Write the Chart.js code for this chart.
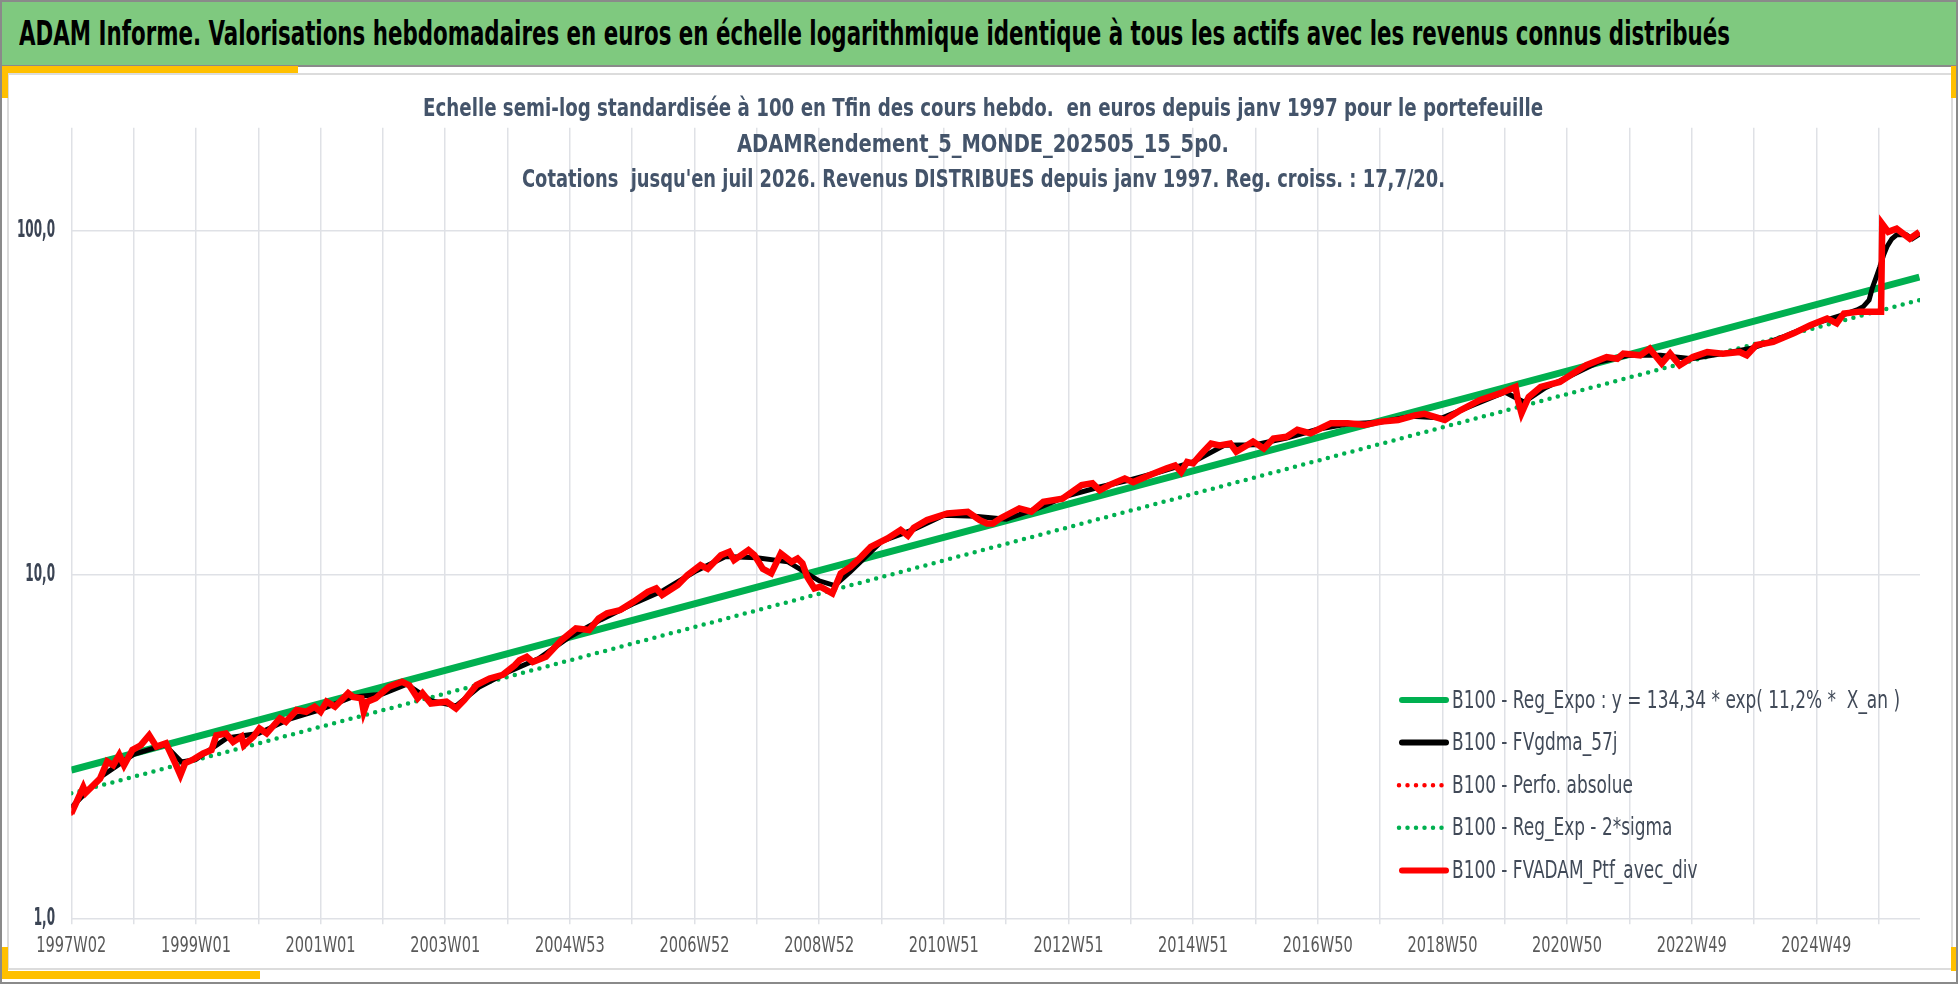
<!DOCTYPE html>
<html>
<head>
<meta charset="utf-8">
<script src="https://cdn.jsdelivr.net/npm/chart.js@4.4.1/dist/chart.umd.min.js"></script>
<style>
  html, body { margin: 0; padding: 0; background: #fff; }
  body { width: 1958px; height: 984px; position: relative; overflow: hidden;
         font-family: "Liberation Sans Narrow", "DejaVu Sans Condensed", "Roboto", sans-serif; }
  .outer { position: absolute; left: 0; top: 0; width: 1958px; height: 984px; box-sizing: border-box;
           border: 2px solid #8a8a8a; }
  .inner { position: absolute; left: 7px; top: 73px; width: 1946px; height: 897px; box-sizing: border-box;
           border: 2px solid #dcdcdc; }
  .banner { position: absolute; left: 0; top: 0; width: 1958px; height: 67px; background: #7fc97f;
            border: 2px solid #8a8a8a; box-sizing: border-box; }
  .banner span { position: absolute; left: 17px; top: 13px; font-weight: bold; font-size: 33px;
                 line-height: 38px; color: #000; white-space: pre; transform-origin: left top; }
  .y { position: absolute; background: #ffc000; }
  .sub { position: absolute; font-weight: bold; font-size: 24px; line-height: 26px;
         color: #44546a; white-space: pre; transform-origin: left top; }
  canvas { position: absolute; left: 0; top: 0; }
</style>
</head>
<body>
<div class="outer"></div>
<div class="inner"></div>
<div class="banner"><span id="bannerText">ADAM Informe. Valorisations hebdomadaires en euros en échelle logarithmique identique à tous les actifs avec les revenus connus distribués</span></div>
<div class="y" style="left:2px;top:66px;width:296px;height:7px"></div>
<div class="y" style="left:2px;top:66px;width:6px;height:32px"></div>
<div class="y" style="left:1951px;top:66px;width:5px;height:32px"></div>
<div class="y" style="left:2px;top:971px;width:258px;height:8px"></div>
<div class="y" style="left:2px;top:947px;width:6px;height:32px"></div>
<div class="y" style="left:1951px;top:947px;width:5px;height:24px"></div>
<canvas id="chart" width="1958" height="984"></canvas>
<span class="sub" id="sub0">Echelle semi-log standardisée à 100 en Tfin des cours hebdo.  en euros depuis janv 1997 pour le portefeuille</span>
<span class="sub" id="sub1">ADAMRendement_5_MONDE_202505_15_5p0.</span>
<span class="sub" id="sub2">Cotations  jusqu'en juil 2026. Revenus DISTRIBUES depuis janv 1997. Reg. croiss. : 17,7/20.</span>
<script>
// x = week number since 1997W02
const xTickLabels = ['1997W02', '1999W01', '2001W01', '2003W01', '2004W53', '2006W52', '2008W52',
  '2010W51', '2012W51', '2014W51', '2016W50', '2018W50', '2020W50', '2022W49', '2024W49'];
const yTickValues = [1, 10, 100];
const lastWeek = 1542.5;

const seriesLabels = [
  'B100 - Reg_Expo : y = 134,34 * exp( 11,2% *  X_an )',
  'B100 - FVgdma_57j',
  'B100 - Perfo. absolue',
  'B100 - Reg_Exp - 2*sigma',
  'B100 - FVADAM_Ptf_avec_div'
];

// FVADAM_Ptf_avec_div (and Perfo. absolue, drawn underneath)
const ptfWeeks = [0, 10, 12, 24, 30, 35, 40, 44, 51, 58, 65, 71, 79, 86, 91, 95, 101, 110, 117, 121,
  129, 135, 142, 144, 152, 157, 163, 174, 179, 188, 196, 203, 208, 213, 220, 231, 235, 242, 244, 247,
  254, 265, 276, 282, 289, 293, 300, 313, 321, 328, 338, 349, 360, 370, 374, 380, 385, 396, 409, 421,
  432, 440, 447, 458, 469, 481, 488, 493, 506, 514, 525, 531, 542, 549, 553, 565, 570, 577, 584, 592,
  601, 606, 610, 614, 620, 625, 635, 642, 650, 659, 667, 681, 692, 698, 703, 714, 731, 748, 758, 764,
  769, 775, 791, 801, 811, 827, 843, 852, 858, 866, 879, 886, 900, 914, 921, 926, 931, 936, 943, 951,
  958, 967, 972, 981, 986, 995, 1003, 1014, 1023, 1034, 1051, 1065, 1079, 1093, 1107, 1121, 1129, 1139,
  1146, 1159, 1175, 1192, 1205, 1207, 1210, 1216, 1226, 1242, 1253, 1264, 1281, 1290, 1295, 1309, 1317,
  1327, 1334, 1342, 1353, 1365, 1378, 1392, 1398, 1406, 1420, 1437, 1451, 1465, 1473, 1479, 1492, 1510,
  1511, 1516, 1523, 1534, 1542];
const ptfValues = [2.02, 2.41, 2.32, 2.55, 2.86, 2.79, 2.99, 2.79, 3.09, 3.19, 3.41, 3.16, 3.23, 2.86, 2.61, 2.83, 2.89, 3.02, 3.09, 3.41,
  3.45, 3.26, 3.38, 3.19, 3.38, 3.57, 3.45, 3.82, 3.73, 4.04, 3.99, 4.13, 3.99, 4.27, 4.13, 4.52, 4.41, 4.37, 3.99, 4.27,
  4.37, 4.72, 4.88, 4.77, 4.37, 4.52, 4.22, 4.27, 4.08, 4.32, 4.77, 4.99, 5.11, 5.45, 5.64, 5.77, 5.57, 5.77, 6.45, 6.98,
  6.90, 7.46, 7.72, 7.89, 8.34, 8.92, 9.12, 8.73, 9.33, 9.97, 10.66, 10.4, 11.4, 11.66, 11.03, 11.79, 11.4, 10.4, 10.09, 11.53,
  10.9, 11.15, 10.8, 9.86, 9.12, 9.23, 8.82, 10.09, 10.54, 11.27, 12.05, 12.75, 13.49, 13.0, 13.7, 14.42, 15.07, 15.25, 14.42, 14.1,
  14.1, 14.58, 15.6, 15.25, 16.3, 16.64, 18.23, 18.45, 17.6, 18.23, 19.06, 18.6, 19.5, 20.4, 20.8, 19.9, 21.3, 21.1, 22.5, 24.1,
  23.8, 24.1, 22.8, 23.8, 24.4, 23.3, 24.9, 25.2, 26.4, 25.8, 27.6, 27.6, 27.3, 27.9, 28.2, 29.1, 29.4, 28.7,
  28.2, 30.1, 32.2, 33.7, 35.2, 32.2, 29.5, 32.9, 35.2, 36.4, 38.5, 40.7, 43.0, 42.5, 44.0, 43.5, 45.5,
  41.2, 44.0, 40.7, 43.0, 44.5, 44.0, 44.5, 43.5, 46.6, 47.6, 50.4, 53.2, 55.7, 53.9, 57.6, 58.3, 58.3,
  105.0, 99.5, 101.7, 95.1, 99.5];

// FVgdma_57j (smoothed)
const mmWeeks = [0, 26, 52, 78, 92, 104, 130, 156, 182, 208, 234, 260, 280, 300, 321, 340, 364, 390,
  416, 442, 468, 494, 520, 546, 572, 598, 624, 637, 650, 676, 702, 728, 754, 780, 806, 832, 858, 884,
  910, 936, 962, 988, 1014, 1040, 1066, 1092, 1118, 1144, 1170, 1196, 1212, 1230, 1248, 1274, 1300,
  1326, 1352, 1378, 1404, 1430, 1456, 1480, 1490, 1495, 1500, 1503, 1506, 1509, 1512, 1515, 1519, 1523,
  1531, 1536, 1542];
const mmValues = [2.1, 2.6, 3.0, 3.2, 2.85, 2.9, 3.35, 3.45, 3.8, 4.05, 4.4, 4.5, 4.8, 4.3, 4.15, 4.7, 5.2, 5.7,
  6.6, 7.4, 8.2, 9.0, 10.2, 11.3, 11.2, 10.9, 9.6, 9.3, 10.2, 12.5, 13.5, 14.9, 14.8, 14.5, 15.6, 17.0, 18.0, 18.9,
  20.0, 21.3, 23.8, 23.9, 25.0, 26.5, 27.5, 27.8, 28.9, 28.6, 31.2, 34.0, 31.8, 35.0, 37.5, 41.5, 43.6,
  43.5, 42.5, 44.0, 45.8, 49.5, 54.0, 57.3, 59.0, 60.2, 63.0, 68.8, 73.5, 78.7, 85.0, 90.2, 95.0, 97.6,
  97.6, 95.0, 98.0];

// regression line and regression - 2 sigma (straight on log scale)
const regWeeks = [0, 1542];
const regValues = [2.70, 73.5];
const regLowValues = [2.31, 63.0];

const pts = (xs, ys) => xs.map((x, i) => ({ x: x, y: ys[i] }));

const gridWeeks = [];
for (let w = 0; w <= lastWeek; w += 52) gridWeeks.push(w);

const FONT = '"Liberation Sans Narrow", "DejaVu Sans Condensed", "Roboto", sans-serif';

const datasets = [
  { label: seriesLabels[0], data: pts(regWeeks, regValues), borderColor: '#00b050', borderWidth: 7, order: 3 },
  { label: seriesLabels[1], data: pts(mmWeeks, mmValues), borderColor: '#000000', borderWidth: 5, order: 1 },
  { label: seriesLabels[2], data: pts(ptfWeeks, ptfValues), borderColor: '#ff0000', borderWidth: 4.5,
    borderDash: [0, 8], borderCapStyle: 'round', order: 2 },
  { label: seriesLabels[3], data: pts(regWeeks, regLowValues), borderColor: '#00b050', borderWidth: 4.5,
    borderDash: [0, 8.5], borderCapStyle: 'round', order: 4 },
  { label: seriesLabels[4], data: pts(ptfWeeks, ptfValues), borderColor: '#ff0000', borderWidth: 6.5, order: 0 }
];
datasets.forEach(d => { d.pointRadius = 0; d.fill = false; d.tension = 0; });

// text squeezed horizontally, like the narrow font of the original
function squeezed(ctx, text, x, y, align, sx) {
  ctx.save();
  ctx.translate(x, y);
  ctx.scale(sx, 1);
  ctx.textAlign = align;
  ctx.fillText(text, 0, 0);
  ctx.restore();
}

const textPlugin = {
  id: 'squeezedText',
  afterDraw(chart) {
    const ctx = chart.ctx;
    const xs = chart.scales.x, ys = chart.scales.y;
    ctx.save();
    ctx.textBaseline = 'middle';

    // x tick labels
    ctx.font = '22px ' + FONT;
    ctx.fillStyle = '#595959';
    let sx = 70 / ctx.measureText('1997W02').width;
    xTickLabels.forEach((t, i) => squeezed(ctx, t, xs.getPixelForValue(i * 104), 946, 'center', sx));

    // y tick labels
    ctx.font = 'bold 24px ' + FONT;
    ctx.fillStyle = '#3b4454';
    sx = 38 / ctx.measureText('100,0').width;
    yTickValues.forEach(v => squeezed(ctx, v.toFixed(1).replace('.', ','), 55, ys.getPixelForValue(v), 'right', sx));

    // legend inside the plot, bottom right
    ctx.font = '25px ' + FONT;
    sx = 448 / ctx.measureText(seriesLabels[0]).width;
    chart.data.datasets.forEach((d, i) => {
      const y = 700 + i * 42.6;
      ctx.beginPath();
      ctx.strokeStyle = d.borderColor;
      ctx.lineWidth = d.borderDash ? 4.5 : 6;
      ctx.lineCap = 'round';
      ctx.setLineDash(d.borderDash ? [0, 8.5] : []);
      ctx.moveTo(d.borderDash ? 1399 : 1402, y);
      ctx.lineTo(1446, y);
      ctx.stroke();
      ctx.setLineDash([]);
      ctx.fillStyle = '#414a58';
      squeezed(ctx, d.label, 1452, y + 1, 'left', sx);
    });
    ctx.restore();
  }
};

new Chart(document.getElementById('chart'), {
  type: 'line',
  data: { datasets: datasets },
  options: {
    responsive: false,
    animation: false,
    events: [],
    layout: { padding: { top: 127.7, right: 38, left: 0, bottom: 0 } },
    plugins: { legend: { display: false }, title: { display: false }, tooltip: { enabled: false } },
    scales: {
      x: {
        type: 'linear',
        min: 0,
        max: lastWeek,
        afterFit(scale) { scale.height = 65.7; },
        afterBuildTicks(scale) { scale.ticks = gridWeeks.map(v => ({ value: v })); },
        border: { display: false },
        grid: { color: '#dfe1e6', lineWidth: 1.5, drawTicks: true, tickLength: 6 },
        ticks: { display: false }
      },
      y: {
        type: 'logarithmic',
        min: 1,
        max: 200,
        afterFit(scale) { scale.width = 71.3; },
        afterBuildTicks(scale) { scale.ticks = yTickValues.map(v => ({ value: v })); },
        border: { display: false },
        grid: { color: '#dfe1e6', lineWidth: 1.5, drawTicks: false },
        ticks: { display: false }
      }
    }
  },
  plugins: [textPlugin]
});

// fit the HTML titles to the reference widths
function fit(el, left, top, width) {
  const w = el.getBoundingClientRect().width;
  el.style.left = left + 'px';
  el.style.top = top + 'px';
  el.style.transform = 'scaleX(' + (width / w) + ')';
}
fit(document.getElementById('bannerText'), 17, 13, 1711);
const subCenter = 983;
const subWidths = [1120, 492, 923];
const subTops = [95, 131, 166];
subWidths.forEach((w, i) => fit(document.getElementById('sub' + i), subCenter - w / 2, subTops[i], w));
</script>
</body>
</html>
